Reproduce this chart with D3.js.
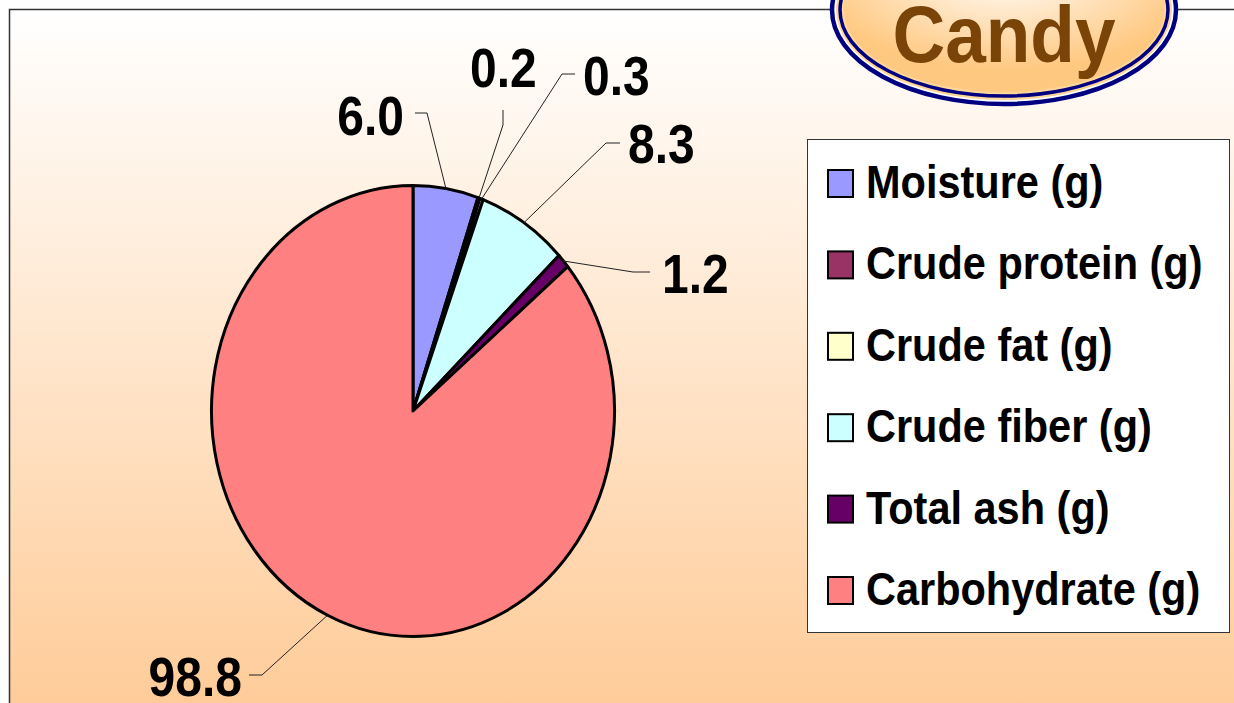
<!DOCTYPE html>
<html>
<head>
<meta charset="utf-8">
<script src="https://cdn.jsdelivr.net/npm/d3@7"></script>
<style>
  html, body { margin: 0; padding: 0; background: #ffffff; }
  svg { display: block; }
  text { font-family: "Liberation Sans", Arial, sans-serif; font-weight: bold; }
</style>
</head>
<body>
<svg id="chart" width="1234" height="703"></svg>
<script>
// ---- data ----
const categories = ["Moisture (g)", "Crude protein (g)", "Crude fat (g)", "Crude fiber (g)", "Total ash (g)", "Carbohydrate (g)"];
const values = [6.0, 0.2, 0.3, 8.3, 1.2, 98.8];
const colors = ["#9999FF", "#993366", "#FFFFCC", "#CCFFFF", "#660066", "#FF8080"];
const title = "Candy";

// ---- layout (label elbows / anchors) ----
const labelLayout = [
  { elbow: [427, 113], end: [415, 113], tx: 404, ty: 135, anchor: "end" },
  { elbow: [503, 125], end: [503, 110], tx: 470, ty: 87, anchor: "start" },
  { elbow: [562, 74], end: [575, 74], tx: 583, ty: 95, anchor: "start" },
  { elbow: [606, 143], end: [620, 143], tx: 628, ty: 163, anchor: "start" },
  { elbow: [633, 272], end: [650, 272], tx: 662, ty: 293, anchor: "start" },
  { elbow: [262, 675], end: [249, 675], tx: 242, ty: 696, anchor: "end" }
];

const W = 1234, H = 703;
const svg = d3.select("#chart");
const defs = svg.append("defs");

// background gradient
const bg = defs.append("linearGradient").attr("id", "bg").attr("x1", 0).attr("y1", 0).attr("x2", 0).attr("y2", 1);
bg.append("stop").attr("offset", "0%").attr("stop-color", "#FFFFFF");
bg.append("stop").attr("offset", "100%").attr("stop-color", "#FFCC99");

const rg = defs.append("radialGradient").attr("id", "badge").attr("cx", "50%").attr("cy", "25%").attr("r", "62%");
rg.append("stop").attr("offset", "0%").attr("stop-color", "#FFFFFF");
rg.append("stop").attr("offset", "100%").attr("stop-color", "#FFC880");

svg.append("rect").attr("x", 9).attr("y", 9).attr("width", W - 9).attr("height", H - 9).attr("fill", "url(#bg)");
svg.append("path").attr("d", `M9.5,${H} L9.5,9.5 L${W},9.5`).attr("fill", "none").attr("stroke", "#333").attr("stroke-width", 1.5);

// ---- pie ----
const cx = 413, cy = 411, rx = 201.5, ry = 225.5;
const pie = d3.pie().sort(null).value(d => d);
const arcs = pie(values);
const arc = d3.arc().innerRadius(0).outerRadius(rx);

const gPie = svg.append("g").attr("transform", `translate(${cx},${cy}) scale(1,${ry / rx})`);
gPie.selectAll("path.slice").data(arcs).enter().append("path")
  .attr("class", "slice")
  .attr("d", arc)
  .attr("fill", (d, i) => colors[i])
  .attr("stroke", "#000")
  .attr("stroke-width", 3)
  .attr("stroke-linejoin", "round")
  .attr("vector-effect", "non-scaling-stroke");

// ---- leader lines & labels ----
const fmt = d3.format(".1f");
const gLab = svg.append("g");
arcs.forEach((d, i) => {
  const a = (d.startAngle + d.endAngle) / 2;
  const px = cx + rx * Math.sin(a), py = cy - ry * Math.cos(a);
  const L = labelLayout[i];
  gLab.append("path")
    .attr("d", `M${px},${py} L${L.elbow[0]},${L.elbow[1]} L${L.end[0]},${L.end[1]}`)
    .attr("fill", "none").attr("stroke", "#222").attr("stroke-width", 1);
  gLab.append("text")
    .attr("transform", `translate(${L.tx},${L.ty}) scale(1,1.15)`)
    .attr("text-anchor", L.anchor)
    .attr("font-size", 48)
    .attr("fill", "#000")
    .text(fmt(values[i]));
});

// ---- legend ----
const lg = svg.append("g");
lg.append("rect").attr("x", 807.5).attr("y", 139.5).attr("width", 422).attr("height", 493)
  .attr("fill", "#FFFFFF").attr("stroke", "#333").attr("stroke-width", 1);
const rowY = d3.scalePoint().domain(categories).range([198, 605]);
categories.forEach((c, i) => {
  const y = rowY(c);
  lg.append("rect").attr("x", 828).attr("y", y - 28).attr("width", 25).attr("height", 27)
    .attr("fill", colors[i]).attr("stroke", "#000").attr("stroke-width", 2);
  lg.append("text")
    .attr("transform", `translate(866,${y}) scale(1,1.12)`)
    .attr("font-size", 41.5).attr("fill", "#000")
    .text(c);
});

// ---- title badge ----
const bx = 1004, by = 10;
const gb = svg.append("g");
gb.append("ellipse").attr("cx", bx).attr("cy", by).attr("rx", 172).attr("ry", 94)
  .attr("fill", "#FFFFFF").attr("stroke", "#000080").attr("stroke-width", 4.5);
gb.append("ellipse").attr("cx", bx).attr("cy", by).attr("rx", 168).attr("ry", 90)
  .attr("fill", "#FFD699").attr("stroke", "none");
gb.append("ellipse").attr("cx", bx).attr("cy", by).attr("rx", 164).attr("ry", 86)
  .attr("fill", "#FFD699").attr("stroke", "#000080").attr("stroke-width", 3.5);
gb.append("ellipse").attr("cx", bx).attr("cy", by).attr("rx", 160).attr("ry", 82)
  .attr("fill", "url(#badge)").attr("stroke", "none");
gb.append("text")
  .attr("transform", `translate(${bx},62) scale(1,1.09)`)
  .attr("text-anchor", "middle")
  .attr("font-size", 73).attr("fill", "#7A4408")
  .text(title);
</script>
</body>
</html>
